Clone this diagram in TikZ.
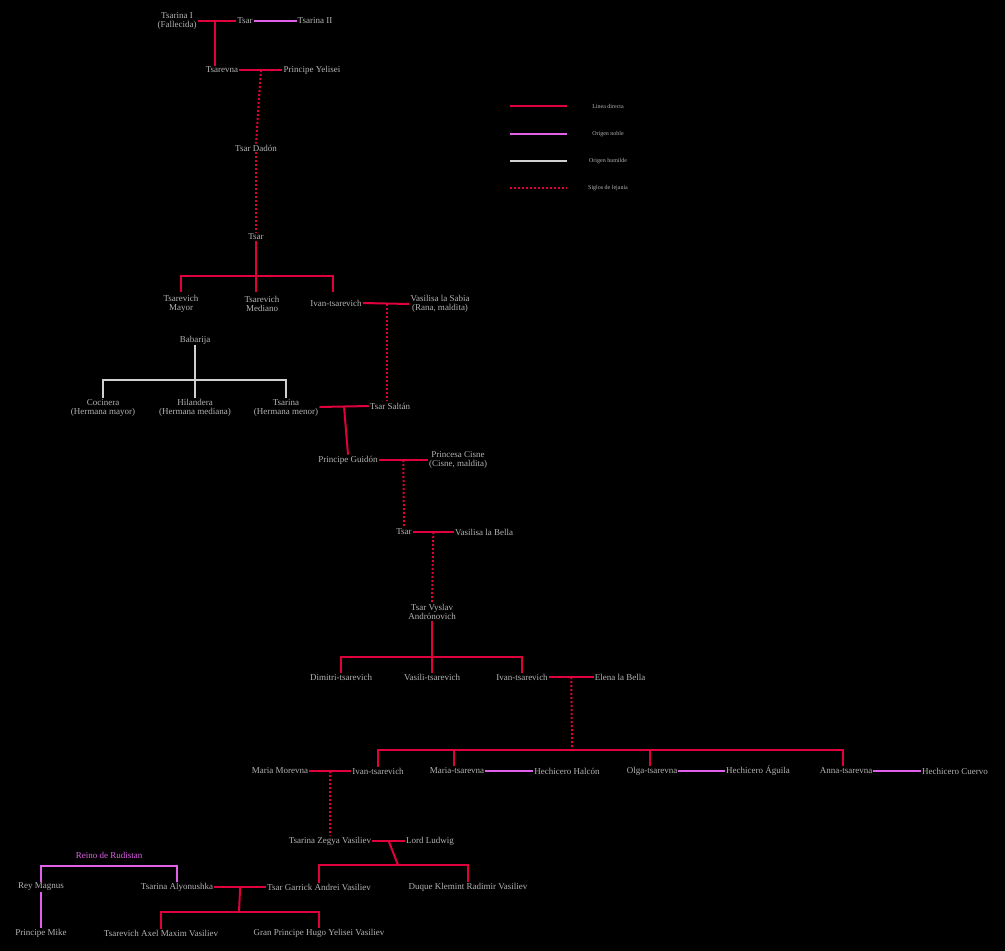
\documentclass[tikz,border=0pt]{standalone}
\usepackage{fontspec}
\setmainfont{Liberation Serif}
\definecolor{linea}{HTML}{E0003C}
\definecolor{noble}{HTML}{E060E8}
\definecolor{humilde}{HTML}{D0D0D0}
\definecolor{texto}{HTML}{B4B4B4}
\begin{document}
\begin{tikzpicture}[x=1pt,y=-1pt,
  pers/.style={text=texto,font=\fontsize{9}{9.5}\selectfont,align=center,inner sep=1pt},
  leg/.style={text=texto,font=\fontsize{6}{6}\selectfont},
  dir/.style={draw=linea,line width=2pt},
  nob/.style={draw=noble,line width=2pt},
  hum/.style={draw=humilde,line width=2pt},
  far/.style={draw=linea,line width=2pt,dotted}]
\fill[black] (0,0) rectangle (1005,951);
\useasboundingbox (0,0) rectangle (1005,951);

% first generations
\node[pers] (TI) at (177,21) {Tsarina I\\(Fallecida)};
\node[pers] (T1) at (245,21) {Tsar};
\node[pers] (TII) at (315,21) {Tsarina II};
\draw[dir] (TI.east) -- coordinate (m1) (T1.west);
\draw[nob] (T1.east) -- (TII.west);
\node[pers] (Tv) at (222,70) {Tsarevna};
\node[pers] (PY) at (312,70) {Principe Yelisei};
\draw[dir] (m1 -| 215,0) -- (Tv.north -| 215,0);
\draw[dir] (Tv.east) -- coordinate (m2) (PY.west);
\node[pers] (TD) at (256,148) {Tsar Dadón};
\draw[far] (m2) -- (TD.north);
\node[pers] (T2) at (256,237) {Tsar};
\draw[far] (TD.south) -- (T2.north);

\node[pers] (TMa) at (181,304) {Tsarevich\\Mayor};
\node[pers] (TMe) at (262,304) {Tsarevich\\Mediano};
\node[pers] (IT1) at (336,303) {Ivan-tsarevich};
\node[pers] (VS) at (440,304) {Vasilisa la Sabia\\(Rana, maldita)};
\draw[dir] (T2.south) -- (256,276);
\draw[dir] (181,292) -- (181,276) -- (333,276) -- (333,292);
\draw[dir] (256,276) -- (256,292);
\draw[dir] (IT1.east) -- coordinate (m3) (VS.west);

\node[pers] (Bab) at (195,340) {Babarija};
\node[pers] (Coc) at (103,408) {Cocinera\\(Hermana mayor)};
\node[pers] (Hil) at (195,408) {Hilandera\\(Hermana mediana)};
\node[pers] (Tsa) at (286,408) {Tsarina\\(Hermana menor)};
\draw[hum] (Bab.south) -- (195,380);
\draw[hum] (Coc.north) -- (103,380) -- (286,380) -- (Tsa.north);
\draw[hum] (195,380) -- (Hil.north);

\node[pers] (TS) at (390,406) {Tsar Saltán};
\draw[far] (m3 -| 387,0) -- (387,400);
\draw[dir] (Tsa.east |- 0,407) -- coordinate (m4) (TS.west);
\node[pers] (PG) at (348,460) {Principe Guidón};
\node[pers] (PC) at (458,460) {Princesa Cisne\\(Cisne, maldita)};
\draw[dir] (m4) -- (PG.north);
\draw[dir] (PG.east) -- coordinate (m5) (PC.west |- PG.east);
\node[pers] (T3) at (404,532) {Tsar};
\node[pers] (VB) at (484,532) {Vasilisa la Bella};
\draw[far] (m5) -- (T3.north);
\draw[dir] (T3.east) -- coordinate (m6) (VB.west);
\node[pers] (TVA) at (432,612) {Tsar Vyslav\\Andrónovich};
\draw[far] (m6) -- (TVA.north);

\node[pers] (DT) at (341,677) {Dimitri-tsarevich};
\node[pers] (VT) at (432,677) {Vasili-tsarevich};
\node[pers] (IT2) at (522,677) {Ivan-tsarevich};
\node[pers] (EB) at (620,677) {Elena la Bella};
\draw[dir] (TVA.south) -- (432,657);
\draw[dir] (DT.north) -- (341,657) -- (522,657) -- (IT2.north);
\draw[dir] (432,657) -- (VT.north);
\draw[dir] (IT2.east) -- coordinate (m7) (EB.west);
\draw[far] (m7) -- (572,750);

\node[pers] (MM) at (280,771) {Maria Morevna};
\node[pers] (IT3) at (378,771) {Ivan-tsarevich};
\node[pers] (MT) at (457,771) {Maria-tsarevna};
\node[pers] (HH) at (567,771) {Hechicero Halcón};
\node[pers] (OT) at (652,771) {Olga-tsarevna};
\node[pers] (HA) at (758,771) {Hechicero Águila};
\node[pers] (AT) at (846,771) {Anna-tsarevna};
\node[pers] (HC) at (955,771) {Hechicero Cuervo};
\draw[dir] (IT3.north) -- (378,750) -- (843,750) -- (843,766);
\draw[dir] (454,750) -- (454,766);
\draw[dir] (650,750) -- (650,766);
\draw[dir] (MM.east) -- coordinate (m8) (IT3.west);
\draw[nob] (MT.east) -- (HH.west);
\draw[nob] (OT.east) -- (HA.west);
\draw[nob] (AT.east) -- (HC.west);

\node[pers] (TZ) at (330,841) {Tsarina Zegya Vasiliev};
\node[pers] (LL) at (430,841) {Lord Ludwig};
\draw[far] (m8) -- (TZ.north);
\draw[dir] (TZ.east) -- coordinate (m9) (LL.west);

\node[pers,text=noble] (RR) at (109,855) {Reino de Rudistan};
\node[pers] (RM) at (41,887) {Rey Magnus};
\node[pers] (TA) at (177,887) {Tsarina Alyonushka};
\node[pers] (TG) at (319,887) {Tsar Garrick Andrei Vasiliev};
\node[pers] (DK) at (468,887) {Duque Klemint Radimir Vasiliev};
\draw[dir] (m9) -- (398,865);
\draw[dir] (TG.north) -- (319,865) -- (468,865) -- (DK.north);
\draw[nob] (RM.north) -- (41,866) -- (177,866) -- (TA.north);
\draw[dir] (TA.east) -- coordinate (m10) (TG.west);

\node[pers] (PM) at (41,933) {Principe Mike};
\node[pers] (TAx) at (161,933) {Tsarevich Axel Maxim Vasiliev};
\node[pers] (GP) at (319,933) {Gran Principe Hugo Yelisei Vasiliev};
\draw[nob] (RM.south) -- (PM.north);
\draw[dir] (m10) -- (239,912);
\draw[dir] (TAx.north) -- (161,912) -- (319,912) -- (GP.north);

% legend
\node[leg] (L1) at (608,106) {Línea directa};
\node[leg] (L2) at (608,134) {Origen noble};
\node[leg] (L3) at (608,161) {Origen humilde};
\node[leg] (L4) at (608,188) {Siglos de lejanía};
\coordinate (a1) at (510,106);
\coordinate (a2) at (510,134);
\coordinate (a3) at (510,161);
\coordinate (a4) at (510,188);
\draw[dir] (a1) -- ++(57,0);
\draw[nob] (a2) -- ++(57,0);
\draw[hum] (a3) -- ++(57,0);
\draw[far] (a4) -- ++(57,0);
\end{tikzpicture}
\end{document}
